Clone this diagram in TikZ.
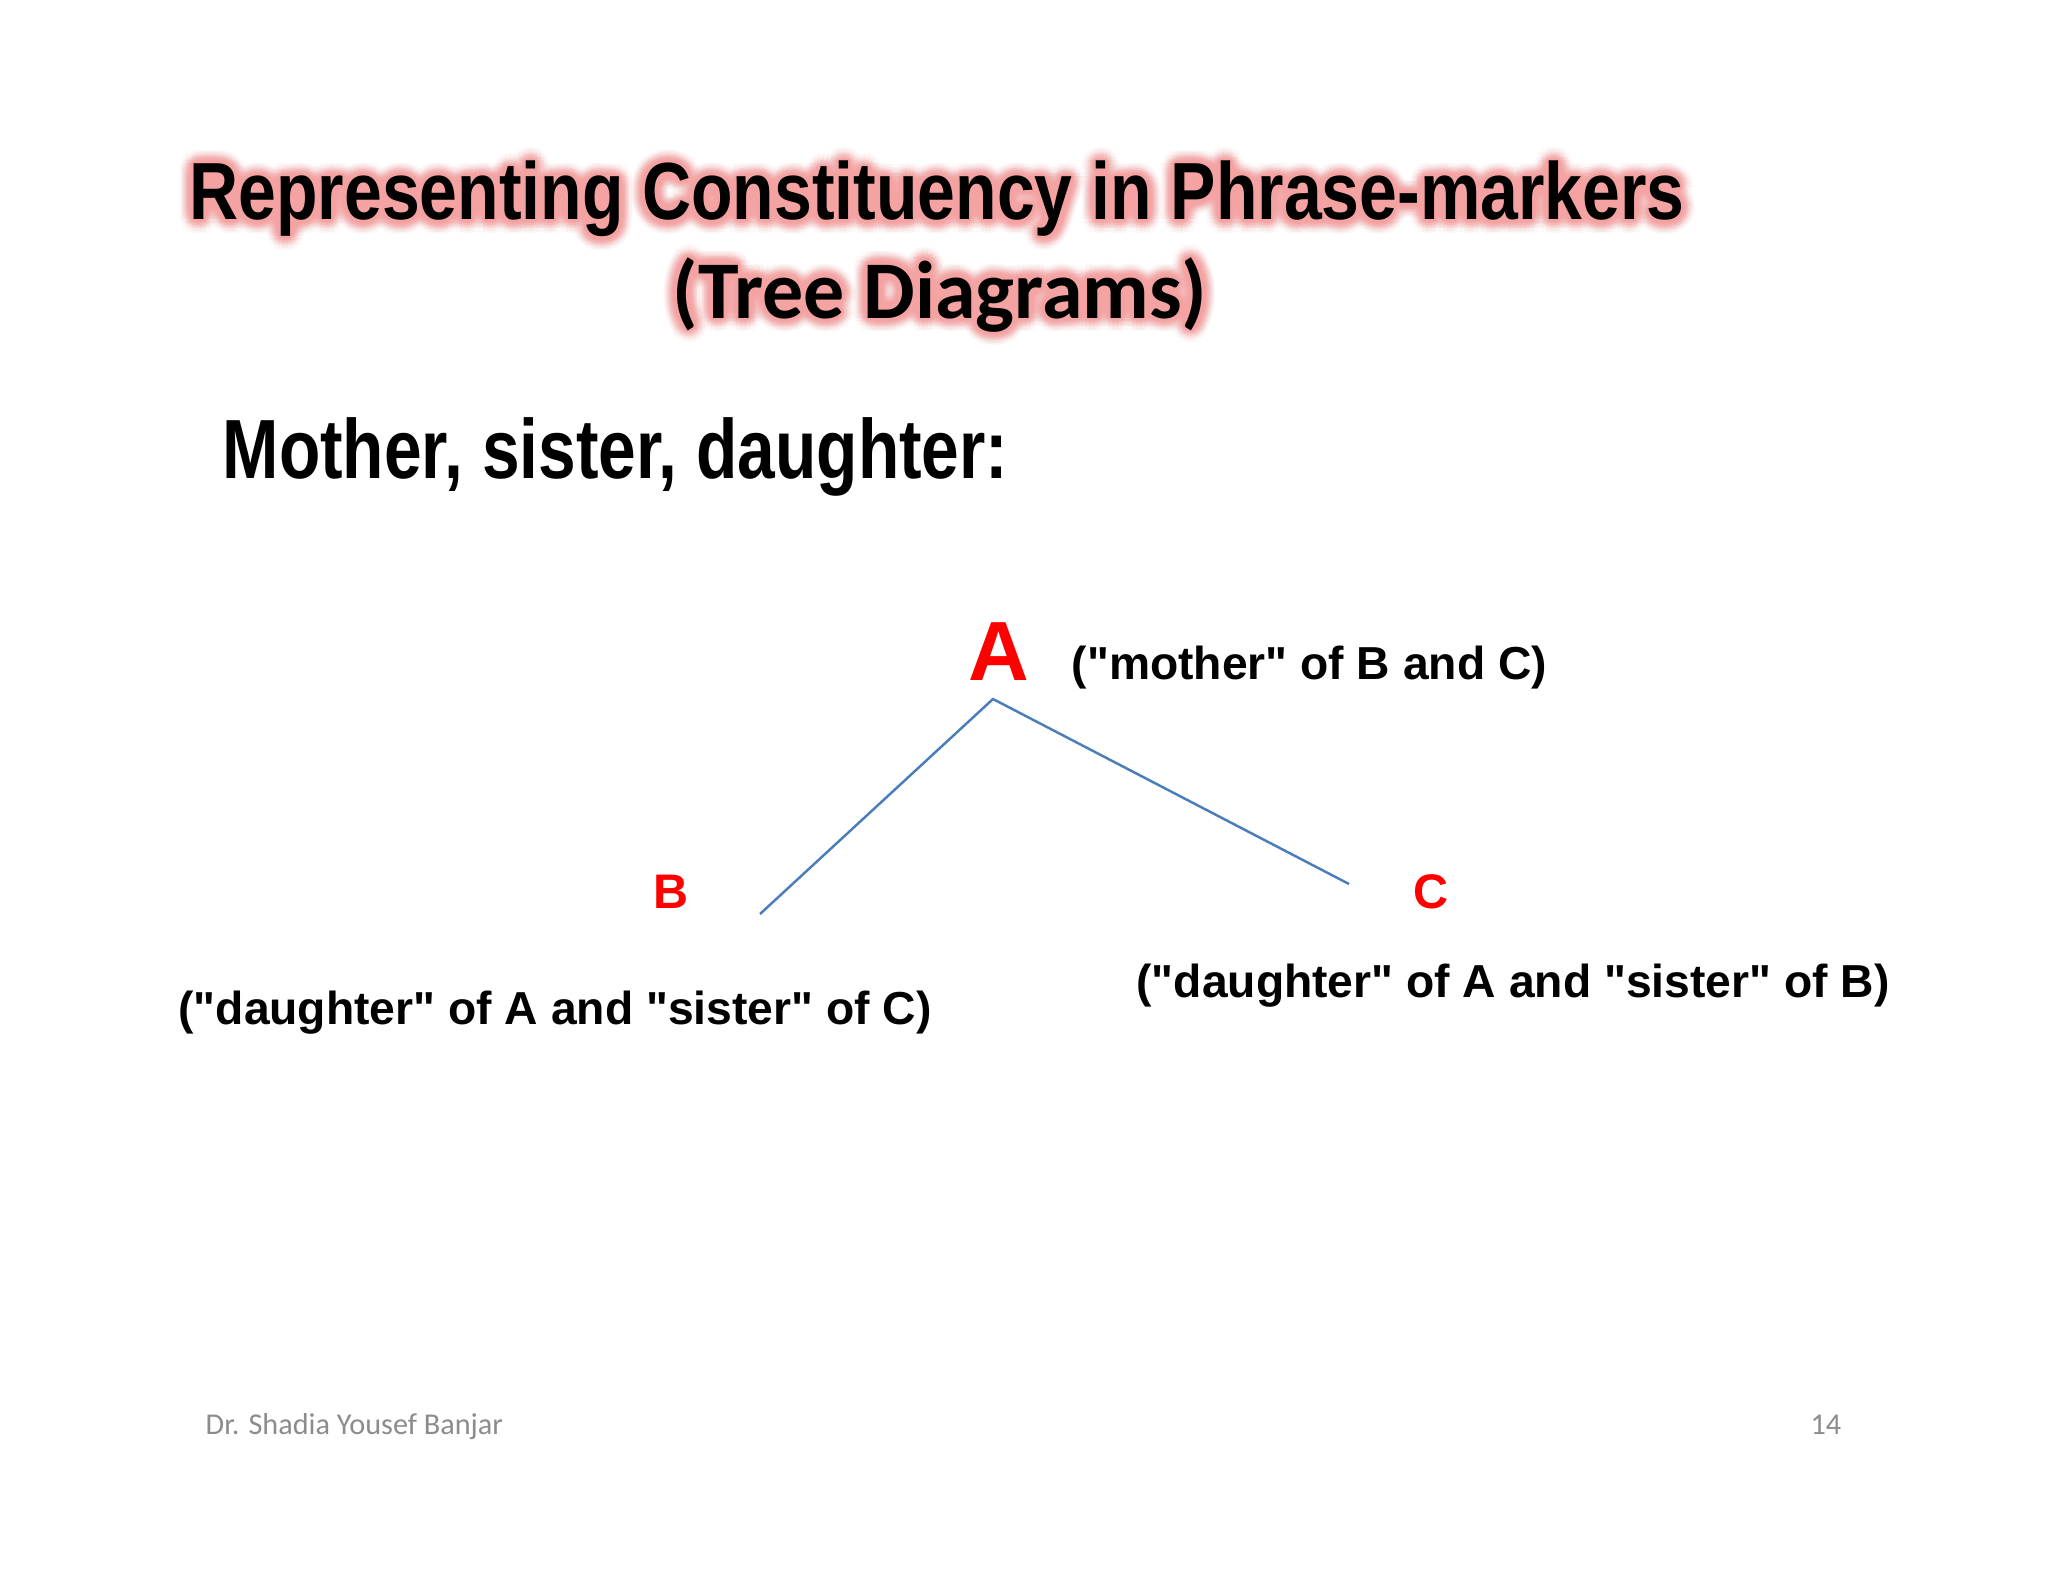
\documentclass[tikz,border=0pt]{standalone}
\usepackage{fontspec}
\usetikzlibrary{calc}
\setmainfont{Liberation Sans}[Ligatures=TeXOff]
\newfontfamily\narrowfont{Liberation Sans}[FakeStretch=0.838]
\newfontfamily\headfont{Liberation Sans}[FakeStretch=0.805]
\newfontfamily\calfont{Carlito}
\definecolor{glowpink}{HTML}{F4A2A2}
\definecolor{linkblue}{HTML}{4A7EBB}
\definecolor{nodered}{HTML}{FF0000}
\definecolor{footgray}{HTML}{8C8C8C}
\tikzset{
  titleA/.style={anchor=base, inner sep=0pt, font=\narrowfont\bfseries\fontsize{23.05pt}{28pt}\selectfont},
  titleB/.style={anchor=base, inner sep=0pt, font=\calfont\bfseries\fontsize{23.3pt}{28pt}\selectfont},
  headtext/.style={anchor=base west, inner sep=0pt, font=\headfont\bfseries\fontsize{23.9pt}{28pt}\selectfont},
  bigletter/.style={anchor=base, inner sep=0pt, text=nodered, font=\bfseries\fontsize{23.9pt}{28pt}\selectfont},
  smallletter/.style={anchor=base, inner sep=0pt, text=nodered, font=\bfseries\fontsize{13.8pt}{16pt}\selectfont},
  gloss/.style={inner sep=0pt, font=\bfseries\fontsize{13.15pt}{16pt}\selectfont},
  foot/.style={inner sep=0pt, text=footgray, font=\calfont\fontsize{8.6pt}{10pt}\selectfont},
  branch/.style={draw=linkblue, line width=0.7pt},
}
\begin{document}
\begin{tikzpicture}[x=0.01cm, y=-0.01cm]
\useasboundingbox[fill=white] (0,0) rectangle (2048,1582);
% glow behind the title
\foreach \r/\op in {14/0.05, 11.5/0.07, 9/0.10, 6.5/0.14, 4/0.2, 2/0.3} {
  \foreach \a in {0,20,...,340} {
    \node[titleA, text=glowpink, text opacity=\op] (ga-\r-\a) at ($(937,220)+(\a:\r)$) {Representing Constituency in Phrase-markers};
    \node[titleB, text=glowpink, text opacity=\op] (gb-\r-\a) at ($(940,318)+(\a:\r)$) {(Tree Diagrams)};
  }
}
\node[titleA] (title1) at (937,220) {Representing Constituency in Phrase-markers};
\node[titleB] (title2) at (940,318) {(Tree Diagrams)};
\node[headtext] (head) at (222,478) {Mother, sister, daughter:};
% tree
\node[bigletter] (A) at (999,680) {A};
\node[gloss, anchor=base west] (Agloss) at (1071,679) {("mother" of B and C)};
\node[smallletter] (B) at (671,908) {B};
\node[smallletter] (C) at (1431,908) {C};
\node[gloss, anchor=base] (Bgloss) at (555,1024) {("daughter" of A and "sister" of C)};
\node[gloss, anchor=base] (Cgloss) at (1513,997) {("daughter" of A and "sister" of B)};
\coordinate (apex) at (993,699);
\coordinate (lend) at (760,914);
\coordinate (rend) at (1349,884);
\draw[branch] (lend) -- (apex) -- (rend);
% footer
\node[foot, anchor=base west] (author) at (205,1434) {Dr. Shadia Yousef Banjar};
\node[foot, anchor=base east] (page) at (1842,1434) {14};
\end{tikzpicture}
\end{document}
